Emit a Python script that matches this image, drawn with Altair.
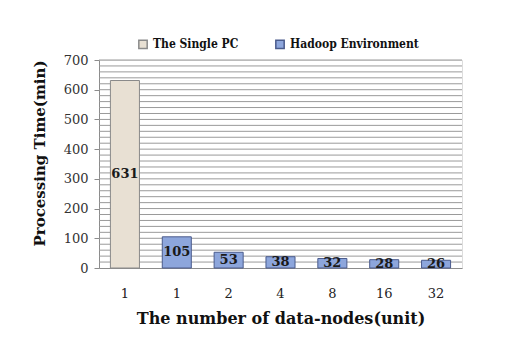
import altair as alt
import pandas as pd

series_names = ["The Single PC", "Hadoop Environment"]
series = ["The Single PC", "Hadoop Environment", "Hadoop Environment", "Hadoop Environment",
          "Hadoop Environment", "Hadoop Environment", "Hadoop Environment"]
nodes = ["1", "1", "2", "4", "8", "16", "32"]
times = [631, 105, 53, 38, 32, 28, 26]
grid_values = [20, 40, 60, 80, 100, 120, 140, 160, 180, 200, 220, 240, 260, 280, 300, 320, 340,
               360, 380, 400, 420, 440, 460, 480, 500, 520, 540, 560, 580, 600, 620, 640, 660, 680, 700]
y_labels = [0, 100, 200, 300, 400, 500, 600, 700]
fill_colors = ["#e8e0d3", "#8da6dc"]
stroke_colors = ["#8a8a8a", "#4a5b8c"]

keys = [f"{i}|{n}" for i, n in enumerate(nodes)]
df = pd.DataFrame({"key": keys, "nodes": nodes, "time": times, "series": series})
grid_df = pd.DataFrame({"v": grid_values})

FONT = "DejaVu Serif"
CFONT = "DejaVu Serif Condensed"

yscale = alt.Scale(domain=[0, 700], nice=False)
yaxis = alt.Axis(values=y_labels, grid=False, tickSize=5, tickColor="#8c8c8c",
                 labelPadding=6, labelFont=FONT, labelFontSize=13, labelColor="#333333",
                 titleFont=FONT, titleFontSize=15, titleFontWeight="bold", titleColor="#111111",
                 titlePadding=16, titleY=93, domainColor="#8c8c8c")
YTITLE = "Processing Time(min)"

grid = alt.Chart(grid_df).mark_rule(color="#9a9a9a", strokeWidth=1).encode(
    y=alt.Y("v:Q", scale=yscale, axis=yaxis, title=YTITLE),
)

x = alt.X("key:N", sort=keys, title="The number of data-nodes(unit)",
          scale=alt.Scale(paddingInner=0.44, paddingOuter=0.22),
          axis=alt.Axis(labelExpr="split(datum.label,'|')[1]", labelAngle=0, ticks=False,
                        labelPadding=19, labelFont=FONT, labelFontSize=13, labelColor="#222222",
                        titleFont=FONT, titleFontSize=16, titleFontWeight="bold", titleColor="#111111",
                        titlePadding=10, domainColor="#8c8c8c"))

bars = alt.Chart(df).mark_bar(strokeWidth=1).encode(
    x=x,
    y=alt.Y("time:Q", scale=yscale, axis=yaxis, title=YTITLE),
    fill=alt.Fill("series:N", sort=series_names, title=None,
                  scale=alt.Scale(domain=series_names, range=fill_colors),
                  legend=alt.Legend(orient="none", legendX=38, legendY=-22, direction="horizontal",
                                    columns=2, columnPadding=33, symbolType="square", symbolSize=70,
                                    labelFont=CFONT, labelFontSize=12, labelFontWeight="bold",
                                    labelColor="#111111")),
    stroke=alt.Stroke("series:N", sort=series_names, title=None,
                      scale=alt.Scale(domain=series_names, range=stroke_colors)),
)

labels = alt.Chart(df).transform_calculate(mid="datum.time / 2").mark_text(
    font=FONT, fontSize=13, fontWeight="bold", color="#1a1a1a", baseline="middle"
).encode(
    x=alt.X("key:N", sort=keys),
    y=alt.Y("mid:Q", scale=yscale, axis=yaxis, title=YTITLE),
    text=alt.Text("time:Q"),
)

chart = alt.layer(grid, bars, labels).properties(
    width=363, height=208,
    autosize=alt.AutoSizeParams(type="none"),
    padding={"left": 91, "top": 52, "right": 30, "bottom": 86},
).configure_view(fill="#f1f1f1", strokeWidth=0).configure(background="white")

chart.save("out.html", embed_options={"renderer": "svg", "actions": False})
